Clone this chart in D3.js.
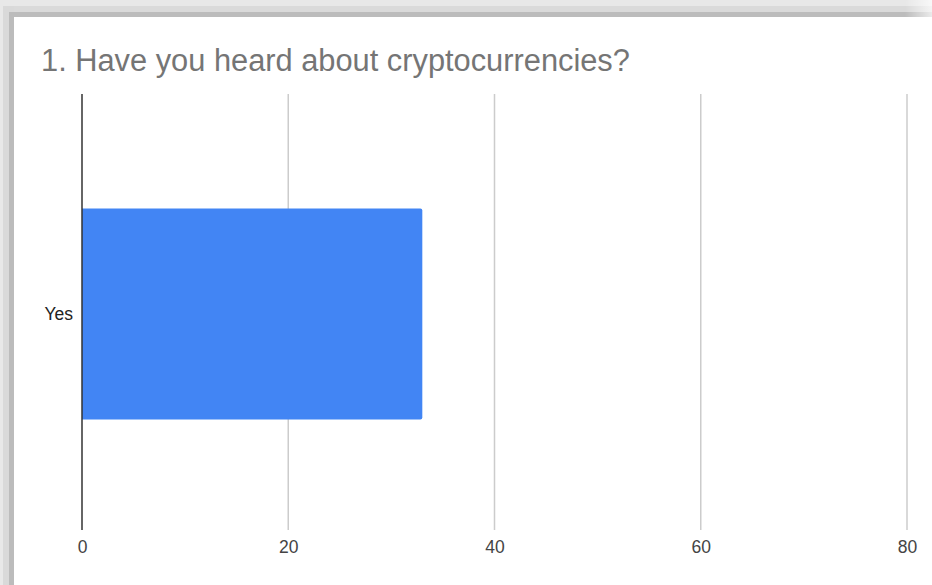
<!DOCTYPE html>
<html>
<head>
<meta charset="utf-8">
<script src="https://cdn.jsdelivr.net/npm/d3@7"></script>
<style>
  html, body { margin: 0; padding: 0; background: #ffffff; }
  svg { display: block; }
</style>
</head>
<body>
<script>
// Survey responses
const categories = ["Yes"];
const counts = [33];
const tickValues = [0, 20, 40, 60, 80];
const title = "1. Have you heard about cryptocurrencies?";

const W = 932, H = 585;
const svg = d3.select("body").append("svg").attr("width", W).attr("height", H);

// Card frame with a soft shadow along the top and left edges
const frame = svg.append("g");
frame.append("rect").attr("x", 0).attr("y", 0).attr("width", W).attr("height", 17).attr("fill", "#e8e8e8");
frame.append("rect").attr("x", 3).attr("y", 6).attr("width", W - 3).attr("height", 11).attr("fill", "#dadada");
frame.append("rect").attr("x", 9).attr("y", 12).attr("width", W - 9).attr("height", 5).attr("fill", "#bcbcbc");
frame.append("rect").attr("x", 0).attr("y", 0).attr("width", 14).attr("height", H).attr("fill", "#e8e8e8");
frame.append("rect").attr("x", 3).attr("y", 6).attr("width", 11).attr("height", H - 6).attr("fill", "#d9d9d9");
frame.append("rect").attr("x", 9).attr("y", 12).attr("width", 5).attr("height", H - 12).attr("fill", "#bcbcbc");
const fade = svg.append("defs").append("linearGradient").attr("id", "fadeR").attr("x1", 0).attr("x2", 1);
fade.append("stop").attr("offset", 0).attr("stop-color", "#fff").attr("stop-opacity", 0);
fade.append("stop").attr("offset", 1).attr("stop-color", "#fff").attr("stop-opacity", 0.7);
frame.append("rect").attr("x", 905).attr("y", 0).attr("width", 27).attr("height", 17).attr("fill", "url(#fadeR)");
// white card
svg.append("rect").attr("x", 14).attr("y", 17).attr("width", W - 14).attr("height", H - 17).attr("fill", "#ffffff");

const FONT = "'Liberation Sans', Arial, Helvetica, sans-serif";

// Title
svg.append("text")
  .attr("x", 41).attr("y", 71)
  .style("font-family", FONT)
  .style("font-size", "30.8px")
  .attr("fill", "#757575")
  .text(title);

// Scales
const x = d3.scaleLinear().domain([0, 80]).range([82, 907]);
const y = d3.scaleBand().domain(categories).range([95, 533]).padding(0.35);
const plotTop = 94, plotBottom = 530;

// Vertical gridlines
svg.append("g").selectAll("line")
  .data(tickValues.filter(d => d !== 0))
  .join("line")
  .attr("x1", d => x(d)).attr("x2", d => x(d))
  .attr("y1", plotTop).attr("y2", plotBottom)
  .attr("stroke", "#cccccc").attr("stroke-width", 1.5);

// Bars
svg.append("g").selectAll("path")
  .data(categories.map((c, i) => ({ c, v: counts[i] })))
  .join("path")
  .attr("fill", "#4285f4")
  .attr("d", d => {
    const x0 = x(0), x1 = x(d.v), y0 = y(d.c), y1 = y0 + y.bandwidth(), r = 2;
    return `M${x0},${y0}H${x1 - r}Q${x1},${y0} ${x1},${y0 + r}V${y1 - r}Q${x1},${y1} ${x1 - r},${y1}H${x0}Z`;
  });

// Baseline axis at zero
svg.append("line")
  .attr("x1", x(0)).attr("x2", x(0))
  .attr("y1", plotTop).attr("y2", plotBottom)
  .attr("stroke", "#333333").attr("stroke-width", 1.5);

// X tick labels
const xAxis = svg.append("g")
  .attr("transform", `translate(0,${plotBottom})`)
  .call(d3.axisBottom(x).tickValues(tickValues).tickSize(0).tickPadding(11).tickFormat(d3.format("d")));
xAxis.select(".domain").remove();
xAxis.selectAll("text")
  .style("font-family", FONT)
  .style("font-size", "17.5px")
  .attr("fill", "#444444");

// Y category labels
const yAxis = svg.append("g")
  .attr("transform", `translate(${x(0)},0)`)
  .call(d3.axisLeft(y).tickSize(0).tickPadding(9));
yAxis.select(".domain").remove();
yAxis.selectAll("text")
  .style("font-family", FONT)
  .style("font-size", "17.5px")
  .attr("fill", "#222222");
</script>
</body>
</html>
